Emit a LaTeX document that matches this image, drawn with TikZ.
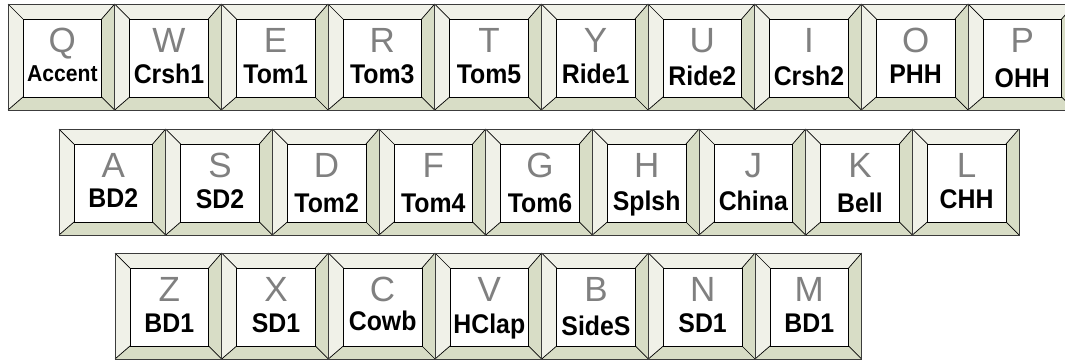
\documentclass[tikz,border=0pt]{standalone}
\usepackage{fontspec}
\setmainfont{Liberation Sans}
\newfontfamily\labelfont[FakeStretch=0.92]{Liberation Sans}
\definecolor{bevlight}{RGB}{240,241,232}
\definecolor{bevdark}{RGB}{216,221,198}
\definecolor{lettergray}{RGB}{128,128,128}
\definecolor{edgegray}{RGB}{60,60,60}
\tikzset{
  keyletter/.style={font=\fontsize{35}{35}\selectfont, text=lettergray, inner sep=0pt, anchor=base},
  keylabel/.style={font=\labelfont\fontsize{27}{27}\selectfont\bfseries, text=black, inner sep=0pt, anchor=base},
  keyedge/.style={draw=edgegray, line width=1pt},
  keyline/.style={draw=black, line width=0.7pt},
}
\newcommand\keycap[6]{%
  \begin{scope}[shift={(#1,#2)}]
    \fill[bevlight] (0,0) -- (106.67,0) -- (93.67,15) -- (15,15) -- (15,93) -- (0,106) -- cycle;
    \fill[bevdark] (106.67,0) -- (106.67,106) -- (0,106) -- (15,93) -- (93.67,93) -- (93.67,15) -- cycle;
    \draw[keyline] (0,0) -- (15,15) (106.67,0) -- (93.67,15) (0,106) -- (15,93) (106.67,106) -- (93.67,93);
    \draw[keyline, fill=white] (15,15) rectangle (93.67,93);
    \draw[keyedge] (0,0) rectangle (106.67,106);
    \node[keyletter] (#6l) at (54.3,48) {#3};
    \node[keylabel] (#6) at (54.3,#5) {#4};
  \end{scope}}
\begin{document}
\begin{tikzpicture}[x=1pt,y=-1pt]
\clip (0,0) rectangle (1065,360);
\fill[white] (0,0) rectangle (1065,360);
% row 1
\keycap{8}{4}{Q}{{\fontsize{23}{23}\selectfont Accent}}{77}{kQ}
\keycap{114.67}{4}{W}{Crsh1}{79}{kW}
\keycap{221.33}{4}{E}{Tom1}{79}{kE}
\keycap{328}{4}{R}{Tom3}{79}{kR}
\keycap{434.67}{4}{T}{Tom5}{79}{kT}
\keycap{541.33}{4}{Y}{Ride1}{79}{kY}
\keycap{648}{4}{U}{Ride2}{81}{kU}
\keycap{754.67}{4}{I}{Crsh2}{81}{kI}
\keycap{861.33}{4}{O}{PHH}{79}{kO}
\keycap{968}{4}{P}{OHH}{83}{kP}
% row 2
\keycap{59}{129}{A}{BD2}{78}{kA}
\keycap{165.67}{129}{S}{SD2}{79}{kS}
\keycap{272.33}{129}{D}{Tom2}{83}{kD}
\keycap{379}{129}{F}{Tom4}{83}{kF}
\keycap{485.67}{129}{G}{Tom6}{83}{kG}
\keycap{592.33}{129}{H}{Splsh}{81}{kH}
\keycap{699}{129}{J}{China}{81}{kJ}
\keycap{805.67}{129}{K}{Bell}{83}{kK}
\keycap{912.33}{129}{L}{CHH}{79}{kL}
% row 3
\keycap{115}{253}{Z}{BD1}{79}{kZ}
\keycap{221.67}{253}{X}{SD1}{79}{kX}
\keycap{328.33}{253}{C}{Cowb}{77}{kC}
\keycap{435}{253}{V}{HClap}{80}{kV}
\keycap{541.67}{253}{B}{SideS}{82}{kB}
\keycap{648.33}{253}{N}{SD1}{79}{kN}
\keycap{755}{253}{M}{BD1}{79}{kM}
\end{tikzpicture}
\end{document}
